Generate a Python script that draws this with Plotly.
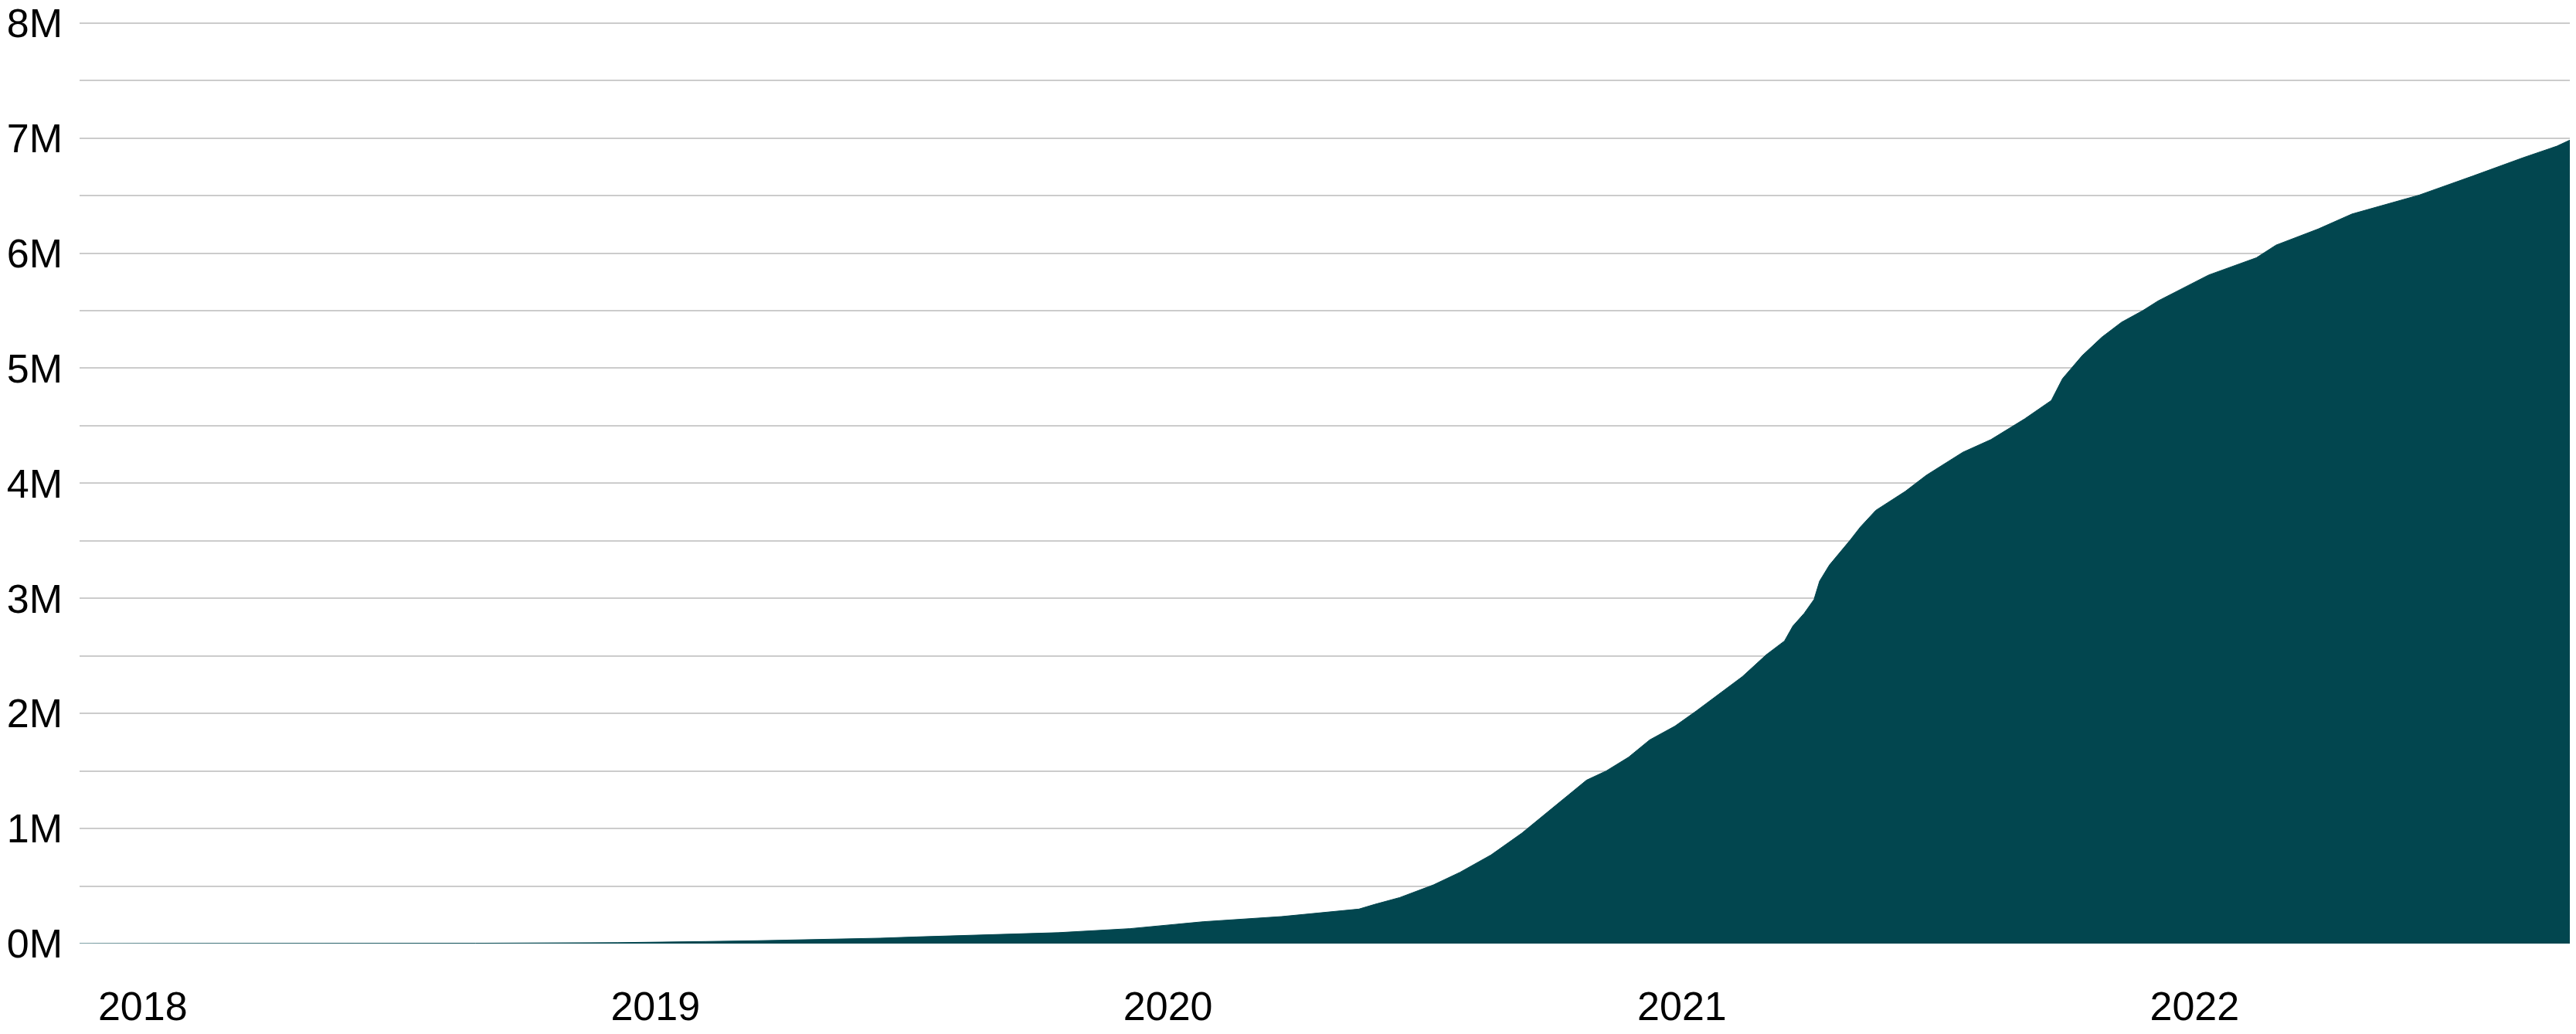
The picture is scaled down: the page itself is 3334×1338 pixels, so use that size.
import plotly.graph_objects as go

# Cumulative total (millions)
dates = [
    "2017-11-17", "2018-08-20", "2018-08-26", "2018-12-05", "2019-01-01",
    "2019-02-06", "2019-03-15", "2019-04-20", "2019-05-16", "2019-06-10",
    "2019-07-06", "2019-08-08", "2019-09-06", "2019-10-15", "2019-12-05",
    "2020-01-26", "2020-03-22", "2020-05-16", "2020-05-27", "2020-06-14",
    "2020-07-08", "2020-07-27", "2020-08-18", "2020-09-09", "2020-10-05",
    "2020-10-25", "2020-11-08", "2020-11-24", "2020-12-09", "2020-12-27",
    "2021-01-11", "2021-01-26", "2021-02-13", "2021-03-02", "2021-03-15",
    "2021-03-21", "2021-03-29", "2021-04-05", "2021-04-09", "2021-04-16",
    "2021-04-23", "2021-05-01", "2021-05-08", "2021-05-19", "2021-06-09",
    "2021-06-24", "2021-07-20", "2021-08-09", "2021-09-02", "2021-09-21",
    "2021-09-29", "2021-10-13", "2021-10-27", "2021-11-10", "2021-11-25",
    "2021-12-06", "2022-01-11", "2022-02-14", "2022-02-28", "2022-03-30",
    "2022-04-23", "2022-06-10", "2022-07-18", "2022-08-23", "2022-09-16",
    "2022-09-30",
]
values = [
    0, 0, 0.003, 0.008, 0.011,
    0.018, 0.025, 0.034, 0.040, 0.047,
    0.058, 0.069, 0.078, 0.095, 0.13,
    0.19, 0.235, 0.30, 0.34, 0.40,
    0.51, 0.62, 0.77, 0.96, 1.22,
    1.42, 1.50, 1.62, 1.77, 1.89,
    2.02, 2.155, 2.32, 2.51, 2.63,
    2.76, 2.87, 2.99, 3.15, 3.29,
    3.39, 3.51, 3.62, 3.765, 3.93,
    4.07, 4.27, 4.38, 4.56, 4.72,
    4.91, 5.11, 5.27, 5.40, 5.50,
    5.585, 5.81, 5.96, 6.07, 6.21,
    6.34, 6.505, 6.67, 6.83, 6.93,
    7.01,
]

fill_color = "#02464F"
grid_color = "#cccccc"
font = dict(family="Liberation Sans, Arial, sans-serif", size=52, color="#000000")

fig = go.Figure(
    go.Scatter(
        x=dates,
        y=values,
        mode="lines",
        fill="tozeroy",
        fillcolor=fill_color,
        line=dict(color=fill_color, width=1),
        hoverinfo="skip",
    )
)

# page body has an 8px margin, so the margins here are shifted to make up for it
fig.update_layout(
    width=3334,
    height=1338,
    margin=dict(l=95, r=0, t=20, b=125, autoexpand=False),
    paper_bgcolor="white",
    plot_bgcolor="white",
    font=font,
    showlegend=False,
)

fig.update_xaxes(
    type="date",
    range=["2017-11-17", "2022-10-04"],
    dtick="M12",
    tickformat="%Y",
    showgrid=False,
    zeroline=False,
    showline=False,
    ticks="",
    ticklabelstandoff=46,
    tickfont=font,
    automargin=False,
)

# top slightly above 8 so the 8M gridline is still drawn
fig.update_yaxes(
    range=[0, 8.012],
    dtick=1,
    ticksuffix="M",
    showgrid=True,
    gridcolor=grid_color,
    gridwidth=2,
    minor=dict(dtick=0.5, showgrid=True, gridcolor=grid_color, gridwidth=2),
    zeroline=False,
    showline=False,
    ticks="",
    ticklabelstandoff=21,
    ticklabeloverflow="allow",
    tickfont=font,
    automargin=False,
)

fig.write_html("out.html", config={"displayModeBar": False})
